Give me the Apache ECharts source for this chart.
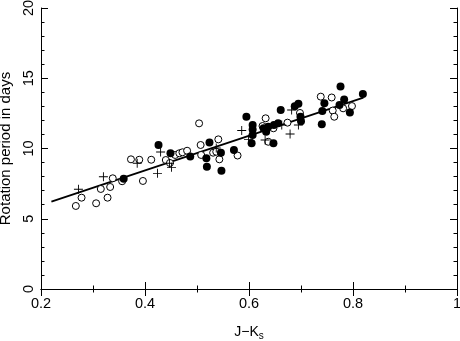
<!DOCTYPE html>
<html>
<head>
<meta charset="utf-8">
<script src="https://cdn.jsdelivr.net/npm/echarts@6/dist/echarts.min.js"></script>
<style>html,body{margin:0;padding:0;background:#fff}#c{width:460px;height:341px}</style>
</head>
<body>
<div id="c"></div>
<script>
var openX = [0.267,0.278,0.306,0.328,0.315,0.333,0.338,0.356,0.373,0.389,0.412,0.396,0.440,0.448,0.458,0.466,0.472,0.481,0.504,0.507,0.508,0.541,0.531,0.537,0.543,0.578,0.632,0.626,0.647,0.637,0.674,0.698,0.738,0.759,0.798,0.781,0.761,0.764];
var openY = [5.91,6.50,6.10,6.50,7.12,7.26,7.88,7.67,9.23,9.20,9.20,7.69,9.18,8.97,9.54,9.66,9.73,9.84,11.79,10.25,9.54,10.65,9.70,9.77,9.23,9.50,12.15,11.60,11.44,10.48,11.84,12.53,13.69,13.63,13.02,12.86,12.70,12.26];
var filledX = [0.359,0.426,0.449,0.487,0.524,0.518,0.546,0.519,0.547,0.571,0.595,0.607,0.607,0.607,0.605,0.628,0.637,0.633,0.648,0.656,0.647,0.661,0.688,0.695,0.699,0.700,0.776,0.819,0.745,0.783,0.774,0.741,0.794,0.740];
var filledY = [7.85,10.25,9.66,9.43,10.43,9.30,9.70,8.70,8.42,9.89,12.26,11.67,11.35,10.96,10.37,11.44,11.55,11.20,11.67,11.79,10.37,12.74,13.00,13.19,12.26,11.94,14.41,13.88,13.22,13.49,13.10,12.67,12.56,11.72];
var plusX = [0.272,0.320,0.385,0.430,0.424,0.447,0.451,0.537,0.586,0.599,0.631,0.663,0.682,0.695,0.679];
var plusY = [7.10,7.99,8.95,9.75,8.23,8.95,8.66,10.04,11.28,10.65,10.60,11.67,12.74,11.67,11.03];
var fitX = [0.22,0.82];
var fitY = [6.22,13.62];
var xTicks = ['0.2','0.4','0.6','0.8','1'];
var yTicks = ['0','5','10','15','20'];

function zip(a,b){var r=[];for(var i=0;i<a.length;i++)r.push([a[i],b[i]]);return r;}
var plusPath = 'path://M-0.1,-1H0.1V-0.1H1V0.1H0.1V1H-0.1V0.1H-1V-0.1H-0.1Z';
var font = 'Liberation Sans';
function xLab(v){var s=Math.round(v*10)/10;var t=String(s);return xTicks.indexOf(t)>=0?t:'';}
function yLab(v){var t=String(Math.round(v));return yTicks.indexOf(t)>=0?t:'';}
var tickCommon = {axisLine:{show:true,lineStyle:{color:'#000',width:1}},axisTick:{show:true,inside:true,length:7,lineStyle:{color:'#000',width:1}},splitLine:{show:false}};
function mk(base,split){return Object.assign(base,JSON.parse(JSON.stringify(tickCommon)),{minorTick:{show:true,splitNumber:split,length:3.5,lineStyle:{color:'#000',width:1}}});}
var chart = echarts.init(document.getElementById('c'));
chart.setOption({
  animation:false,
  backgroundColor:'#fff',
  grid:{left:41,right:3,top:8,bottom:52,show:false,containLabel:false,outerBoundsMode:'none'},
  xAxis:[
    mk({type:'value',min:0.2,max:1,interval:0.2,position:'bottom',
      name:'{a|J\u2212K}{b|s}',nameLocation:'middle',nameGap:34,
      nameTextStyle:{color:'#000',fontFamily:font,rich:{a:{fontSize:14,fontFamily:font,color:'#000',lineHeight:18},b:{fontSize:10,fontFamily:font,color:'#000',verticalAlign:'bottom',padding:[9,0,0,0],lineHeight:10}}},
      axisLabel:{show:true,margin:7,color:'#000',fontSize:14.5,fontFamily:font,formatter:xLab}},2),
    mk({type:'value',min:0.2,max:1,interval:0.2,position:'top',axisLabel:{show:false}},2)
  ],
  yAxis:[
    mk({type:'value',min:0,max:20,interval:5,position:'left',
      name:'Rotation period in days',nameLocation:'middle',nameGap:19,
      nameTextStyle:{color:'#000',fontFamily:font,fontSize:15},
      axisLabel:{show:true,margin:5,rotate:90,color:'#000',fontSize:14.5,fontFamily:font,formatter:yLab}},5),
    mk({type:'value',min:0,max:20,interval:5,position:'right',axisLabel:{show:false}},5)
  ],
  series:[
    {type:'line',data:zip(fitX,fitY),symbol:'none',lineStyle:{color:'#000',width:1.8},z:1},
    {type:'scatter',data:zip(openX,openY),symbol:'circle',symbolSize:7,itemStyle:{color:'#fff',borderColor:'#000',borderWidth:1,opacity:1},z:3},
    {type:'scatter',data:zip(filledX,filledY),symbol:'circle',symbolSize:8,itemStyle:{color:'#000',opacity:1},z:4},
    {type:'scatter',data:zip(plusX,plusY),symbol:plusPath,symbolSize:9,itemStyle:{color:'#000',opacity:1},z:5}
  ]
});
</script>
</body>
</html>
